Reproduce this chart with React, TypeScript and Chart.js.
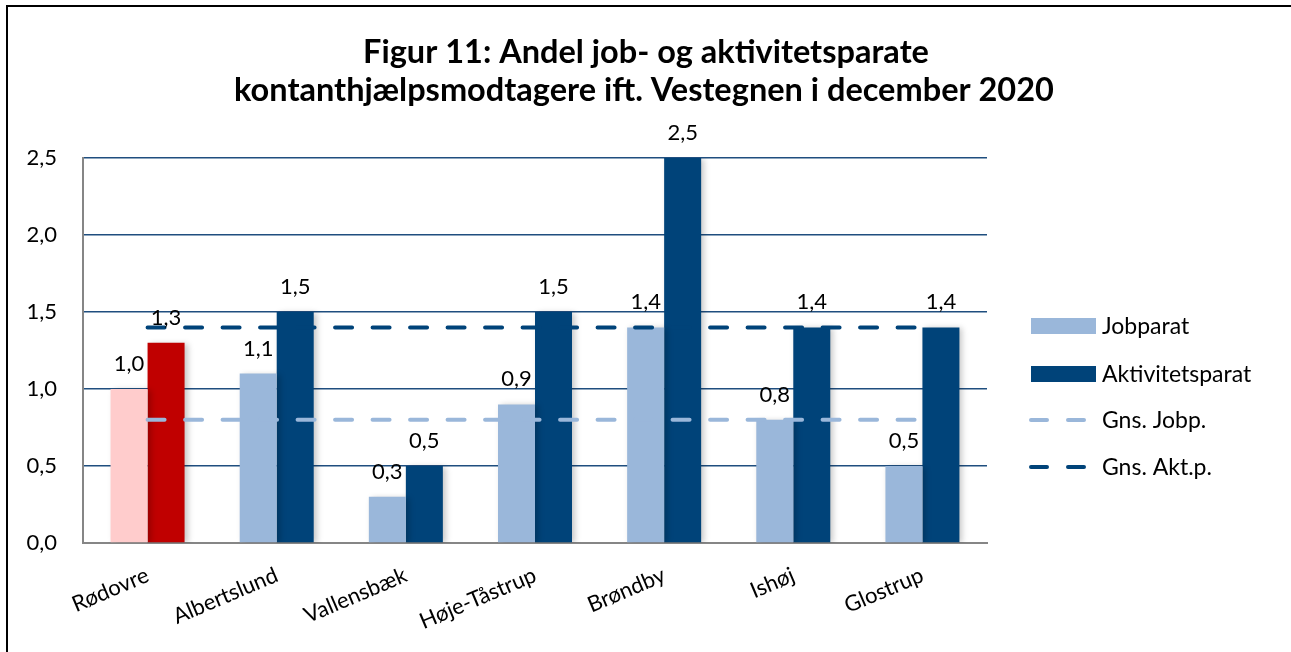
import React, { useEffect, useRef } from "react";
import { Chart, registerables } from "chart.js";

Chart.register(...registerables);

const categories = ["Rødovre", "Albertslund", "Vallensbæk", "Høje-Tåstrup", "Brøndby", "Ishøj", "Glostrup"];
const jobparat = [1.0, 1.1, 0.3, 0.9, 1.4, 0.8, 0.5];
const aktivitetsparat = [1.3, 1.5, 0.5, 1.5, 2.5, 1.4, 1.4];
const gnsJobp = [0.8, 0.8, 0.8, 0.8, 0.8, 0.8, 0.8];
const gnsAktp = [1.4, 1.4, 1.4, 1.4, 1.4, 1.4, 1.4];
const titleLines = ["Figur 11: Andel job- og aktivitetsparate", "kontanthjælpsmodtagere ift. Vestegnen i december 2020"];
const yTicks = [0, 0.5, 1.0, 1.5, 2.0, 2.5];

const LIGHT = "#9AB7DA";
const DARK = "#004379";
const PINK = "#FFCCCC";
const RED = "#C00000";
const FONT = "Lato, 'Open Sans', sans-serif";

const fmt = (v: number) => v.toFixed(1).replace(".", ",");

const framePlugin = {
  id: "frame",
  beforeDraw(chart: any) {
    const ctx = chart.ctx;
    ctx.save();
    ctx.fillStyle = "#ffffff";
    ctx.fillRect(0, 0, chart.width, chart.height);
    ctx.strokeStyle = "#000000";
    ctx.lineWidth = 2;
    ctx.strokeRect(7, 6, chart.width + 50, chart.height + 50);
    ctx.restore();
  },
};

const barShadowPlugin = {
  id: "barShadow",
  beforeDatasetDraw(chart: any, args: any) {
    const ds = chart.data.datasets[args.index];
    if (ds.type === "bar") {
      const ctx = chart.ctx;
      ctx.save();
      ctx.shadowColor = "rgba(0,0,0,0.22)";
      ctx.shadowBlur = 6;
      ctx.shadowOffsetX = 3;
      ctx.shadowOffsetY = 1;
    }
  },
  afterDatasetDraw(chart: any, args: any) {
    const ds = chart.data.datasets[args.index];
    if (ds.type === "bar") chart.ctx.restore();
  },
};

const labelsPlugin = {
  id: "valueLabels",
  afterDatasetsDraw(chart: any) {
    const ctx = chart.ctx;
    ctx.save();
    ctx.font = `22px ${FONT}`;
    ctx.fillStyle = "#000000";
    ctx.textAlign = "center";
    ctx.textBaseline = "alphabetic";
    chart.data.datasets.forEach((ds: any, i: number) => {
      if (ds.type !== "bar") return;
      const meta = chart.getDatasetMeta(i);
      meta.data.forEach((el: any, j: number) => {
        ctx.fillText(fmt(ds.data[j]), el.x, el.y - 18);
      });
    });
    ctx.restore();
  },
};

const titlePlugin = {
  id: "customTitle",
  afterDraw(chart: any) {
    const ctx = chart.ctx;
    ctx.save();
    ctx.font = `bold 32.5px ${FONT}`;
    ctx.fillStyle = "#000000";
    ctx.textAlign = "center";
    ctx.textBaseline = "alphabetic";
    ctx.fillText(titleLines[0], 646, 63);
    ctx.fillText(titleLines[1], 644, 101);
    ctx.restore();
  },
};

const legendPlugin = {
  id: "customLegend",
  afterDraw(chart: any) {
    const ctx = chart.ctx;
    ctx.save();
    ctx.font = `23px ${FONT}`;
    ctx.textAlign = "left";
    ctx.textBaseline = "alphabetic";
    const items = [
      { label: "Jobparat", kind: "box", color: LIGHT, y: 326 },
      { label: "Aktivitetsparat", kind: "box", color: DARK, y: 374 },
      { label: "Gns. Jobp.", kind: "line", color: LIGHT, y: 420 },
      { label: "Gns. Akt.p.", kind: "line", color: DARK, y: 467 },
    ];
    items.forEach((it) => {
      if (it.kind === "box") {
        ctx.fillStyle = it.color;
        ctx.fillRect(1031, it.y - 8, 65, 16);
      } else {
        ctx.strokeStyle = it.color;
        ctx.lineWidth = 4;
        ctx.lineCap = "round";
        ctx.beginPath();
        ctx.moveTo(1031, it.y);
        ctx.lineTo(1047, it.y);
        ctx.moveTo(1068, it.y);
        ctx.lineTo(1084, it.y);
        ctx.stroke();
      }
      ctx.fillStyle = "#000000";
      ctx.fillText(it.label, 1102, it.y + 8);
    });
    ctx.restore();
  },
};

export default function App() {
  const ref = useRef<HTMLCanvasElement | null>(null);
  useEffect(() => {
    if (!ref.current) return;
    const chart = new Chart(ref.current, {
      type: "bar",
      data: {
        labels: categories,
        datasets: [
          {
            type: "line",
            label: "Gns. Jobp.",
            data: gnsJobp,
            borderColor: LIGHT,
            borderWidth: 4,
            borderDash: [17, 20.5],
            borderCapStyle: "round",
            pointRadius: 0,
            fill: false,
            order: 1,
          } as any,
          {
            type: "line",
            label: "Gns. Akt.p.",
            data: gnsAktp,
            borderColor: DARK,
            borderWidth: 4,
            borderDash: [17, 20.5],
            borderCapStyle: "round",
            pointRadius: 0,
            fill: false,
            order: 1,
          } as any,
          {
            type: "bar",
            label: "Jobparat",
            data: jobparat,
            backgroundColor: jobparat.map((_, i) => (i === 0 ? PINK : LIGHT)),
            categoryPercentage: 0.573,
            barPercentage: 1,
            order: 2,
          } as any,
          {
            type: "bar",
            label: "Aktivitetsparat",
            data: aktivitetsparat,
            backgroundColor: aktivitetsparat.map((_, i) => (i === 0 ? RED : DARK)),
            categoryPercentage: 0.573,
            barPercentage: 1,
            order: 2,
          } as any,
        ],
      },
      options: {
        animation: false,
        responsive: true,
        maintainAspectRatio: false,
        layout: { padding: { top: 158, right: 304, left: 0, bottom: 0 } },
        plugins: {
          legend: { display: false },
          title: { display: false },
          tooltip: { enabled: false },
        },
        scales: {
          x: {
            afterFit: (s: any) => {
              s.height = 109;
            },
            grid: { display: false, drawTicks: false },
            border: { display: true, color: "#868686", width: 2 },
            ticks: {
              color: "#000000",
              font: { family: FONT, size: 22 },
              minRotation: 23,
              maxRotation: 23,
              padding: 19,
              autoSkip: false,
            },
          },
          y: {
            min: 0,
            max: 2.5,
            afterFit: (s: any) => {
              s.width = 83;
            },
            afterBuildTicks: (s: any) => {
              s.ticks = yTicks.map((v) => ({ value: v }));
            },
            grid: {
              drawTicks: false,
              color: (c: any) => (c.tick && c.tick.value === 0 ? "rgba(0,0,0,0)" : "#1F4E7F"),
              lineWidth: 1.6,
            },
            border: { display: true, color: "#868686", width: 2 },
            ticks: {
              color: "#000000",
              font: { family: FONT, size: 22 },
              padding: 26,
              callback: (v: any) => fmt(Number(v)),
            },
          },
        },
      },
      plugins: [framePlugin, barShadowPlugin, labelsPlugin, titlePlugin, legendPlugin],
    });
    return () => chart.destroy();
  }, []);
  return (
    <div style={{ position: "absolute", left: 0, top: 0, width: 1291, height: 652, background: "#fff" }}>
      <canvas ref={ref} />
    </div>
  );
}
